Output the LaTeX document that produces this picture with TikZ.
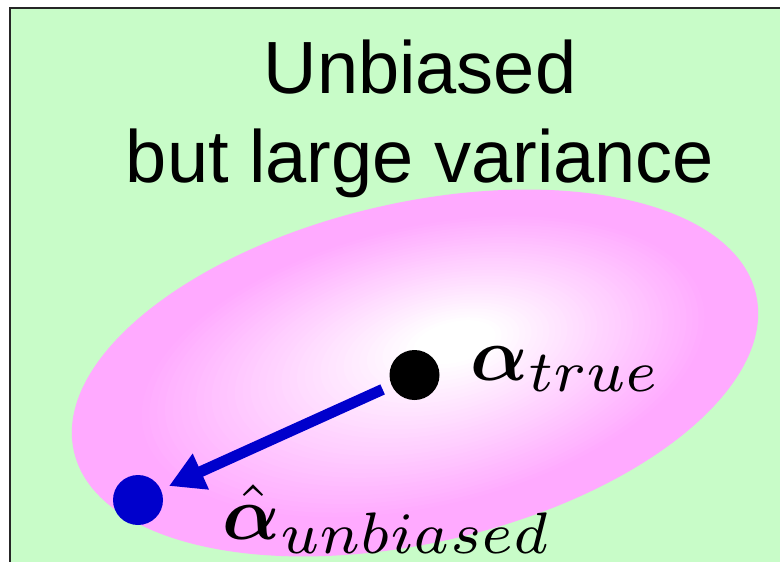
\documentclass[tikz,border=0pt]{standalone}
\usepackage{fontspec}
\setmainfont{Liberation Sans}
\usepackage{amsmath,bm}
\usepackage{graphicx}
\usetikzlibrary{arrows.meta}
\definecolor{bggreen}{RGB}{200,252,200}
\definecolor{ellpink}{RGB}{255,170,255}
\definecolor{arrblue}{RGB}{0,0,204}
\tikzset{
  dot/.style={circle, minimum size=50pt, inner sep=0pt, outer sep=0pt},
  bigarrow/.style={draw=arrblue, line width=11pt, -{Triangle[length=35pt,width=37pt]}, shorten <=10pt, shorten >=9pt},
  titletext/.style={anchor=base, inner sep=0pt, font=\fontsize{74}{89}\selectfont},
  mathlabel/.style={anchor=base west, inner sep=0pt}
}
\newcommand{\subsc}[1]{\scalebox{1.1}{$\scriptstyle #1$}}
\begin{document}
\begin{tikzpicture}[x=1pt,y=-1pt]
\useasboundingbox (0,0) rectangle (780,562);
\draw[line width=2.2pt, draw=black!85, fill=bggreen] (10,8) rectangle (800,600);
\foreach \i in {0,...,48}{
  \pgfmathsetmacro{\s}{1-\i/50}
  \pgfmathsetmacro{\p}{min(100,max(0,(\s-0.12)/0.72*100))}
  \pgfmathsetmacro{\cx}{415+45*(1-\s)}
  \pgfmathsetmacro{\cy}{373-35*(1-\s)}
  \fill[ellpink!\p!white, rotate around={13:(\cx,\cy)}] (\cx,\cy) ellipse [x radius=350*\s, y radius=170*\s];
}
\node[titletext] (title1) at (420,93) {Unbiased};
\node[titletext] (title2) at (420,182) {but large variance};
\node[dot, fill=black] (true) at (414.5,375) {};
\node[dot, fill=arrblue] (unb) at (138,500) {};
\draw[bigarrow] (true) -- (unb);
\node[mathlabel] (ltrue) at (470,380) {\scalebox{7.6}{$\boldsymbol{\alpha}_{\subsc{true}}$}};
\node[mathlabel] (lunb) at (222,539) {\scalebox{7.6}{$\hat{\boldsymbol{\alpha}}_{\subsc{unbiased}}$}};
\end{tikzpicture}
\end{document}
